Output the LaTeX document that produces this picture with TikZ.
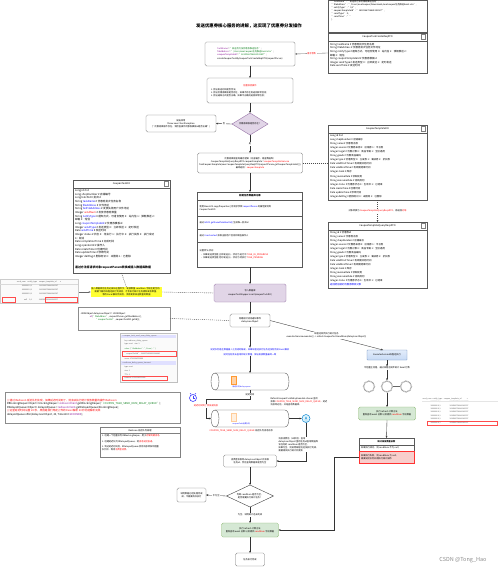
\documentclass[tikz,border=0pt]{standalone}
\usepackage{fontspec}
\setmainfont{Noto Sans CJK SC}
\usetikzlibrary{arrows.meta,shapes.geometric}
\definecolor{cred}{HTML}{FF0000}
\definecolor{cblue}{HTML}{0000FF}
\definecolor{cpur}{HTML}{871094}
\definecolor{cgrn}{HTML}{067D17}
\definecolor{pfill}{HTML}{E1D5E7}
\definecolor{pdraw}{HTML}{9673A6}
\definecolor{gfill}{HTML}{D5E8D4}
\definecolor{gdraw}{HTML}{82B366}
\definecolor{rfill}{HTML}{F8CECC}
\definecolor{rdraw}{HTML}{B85450}
\definecolor{bfill}{HTML}{C7DAF5}
\definecolor{bdraw}{HTML}{6C8EBF}
\definecolor{hl}{HTML}{FFFF33}
\newcommand\cR[1]{\textcolor{cred}{#1}}
\newcommand\cB[1]{\textcolor{cblue}{#1}}
\newcommand\cP[1]{\textcolor{cpur}{#1}}
\newcommand\cG[1]{\textcolor{cgrn}{#1}}
\newcommand\myfa{\fontsize{2.5}{3.6}\selectfont}
\newcommand\myfb{\fontsize{2.8}{3.6}\selectfont}
\newcommand\myfc{\fontsize{2.4}{3.4}\selectfont}
\newcommand\myfd{\fontsize{2.2}{3.0}\selectfont}
\newcommand\myfe{\fontsize{1.8}{2.4}\selectfont}
\tikzset{
  base/.style={inner sep=0.6pt, outer sep=0pt, font=\myfb},
  rbox/.style={base, draw=black!55, rounded corners=1.5pt, fill=white, line width=0.35pt, align=center},
  cls/.style={draw=black!65, fill=white, line width=0.35pt, inner sep=0pt, outer sep=0pt},
  fld/.style={base, align=left, anchor=north west, font=\myfa},
  hdr/.style={base, font=\myfc},
  arr/.style={-{Stealth[length=2.2pt,width=1.8pt]}, line width=0.35pt, draw=black!80},
  dsh/.style={dash pattern=on 1pt off 1pt, line width=0.4pt, draw=black!70},
  lbl/.style={base, fill=white, font=\myfc},
  cylst/.style={draw=black!70, line width=0.35pt},
  gear/.style={circle, draw=gray!75, line width=1.2pt, dash pattern=on 0.8pt off 0.6pt, minimum size=11pt, inner sep=0pt},
  tiny/.style={base, font=\myfe, text=black!70},
}
\begin{document}
\begin{tikzpicture}[x=1pt,y=-1pt]
\useasboundingbox (0,0) rectangle (500,569);
\fill[white] (0,0) rectangle (500,569);

% title
\node[base, font=\fontsize{4.4}{5}\selectfont\bfseries] (title) at (249,26) {发送优惠券核心服务的讲解，这实现了优惠券分发操作};

% ---------- top right JSON + ReqDTO ----------
\node[cls, anchor=north west, minimum width=99pt, minimum height=32pt] (json) at (328,0) {};
\node[fld, font=\myfd, anchor=north west] (jsont) at (331,0.5) {"taskName": "发送百万张优惠券推送任务",\\
"fileAddress": "/Users/oneCoupon/Downloads/oneCoupon任务推送Excel.xlsx",\\
"notifyType": "0,3",\\
"couponTemplateId": "1810966706881941507",\\
"sendType": 0,\\
"sendTime": ""\\
\}};
\node[cls, anchor=north west, minimum width=99pt, minimum height=40pt] (reqdto) at (328,33) {};
\draw[draw=black!65, line width=0.35pt] (328,41) -- (427,41);
\node[hdr] (reqdtoh) at (377.5,37) {CouponTaskCreateReqDTO};
\draw[draw=black!50, line width=0.3pt] (421,34.5) rectangle (425,39.5);
\node[fld] (reqdtof) at (329.5,42.5) {String taskName \# 优惠券批次任务名称\\
String fileAddress \# 优惠券批次任务文件地址\\
String notifyType \# 通知方式，可组合使用 0：站内信 1：弹框推送 2：\\
邮箱 3：短信\\
String couponTemplateId \# 优惠券模板id\\
Integer sendType \# 发送类型 0：立即发送 1：定时发送\\
Date sendTime \# 发送时间};

% ---------- main column ----------
\node[rbox, align=left, minimum width=90pt, minimum height=24pt, font=\myfd] (topbox) at (250,54) {\cP{taskName} = \cG{"发送百万张优惠券推送任务"};\\
\cP{fileAddress} = \cG{"/Users/oneCoupon任务推送Excel.xlsx"};\\
\cP{couponTemplateId} = \cG{"1810966706881941507"};\\[0.8pt]
createCouponTaskByCouponTaskCreateReqDTO(requestParam)};
\draw[arr, draw=black!60] (reqdto.west) -- node[lbl, text=cred, font=\myfd] {请求参数} (topbox.east);

\node[rbox, align=left, minimum width=86pt, minimum height=25pt, font=\myfd] (chk) at (250,90.5) {\makebox[78pt][c]{\cR{前置校验操作}}\\[1.5pt]
1. 验证发送时间是否合法；\\
2. 验证优惠券模板是否存在，如果不存在则返回异常信息；\\
3. 验证通知方式是否正确，如果不正确则返回异常信息；};
\draw[arr] (topbox.south) -- (chk.north);

\node[diamond, aspect=1.7, minimum width=36pt, minimum height=22pt, inner sep=0pt, outer sep=0pt, draw=pdraw, fill=pfill, line width=0.4pt, font=\myfd] (dia1) at (250,124) {优惠券模板是否存在？};
\draw[arr] (chk.south) -- (dia1.north);

\node[rbox, minimum width=70pt, minimum height=17pt, font=\myfd] (exb) at (181,123.5) {抛出异常\\throw new ClientException\\("优惠券模板不存在，请检查操作优惠券模板id是否正确")};
\draw[arr] (dia1.west) -- node[lbl, font=\myfd] {否} (exb.east);

\node[rbox, minimum width=105pt, minimum height=20pt, font=\myfd] (qbox) at (250,163) {优惠券模板查询缓存逻辑（先查缓存，再查数据库）\\
CouponTemplateQueryRespDTO couponTemplate = \cR{couponTemplateService}\\
.findCouponTemplate(new CouponTemplateQueryReqDTO(requestParam.getCouponTemplateId()));\\
最终返回：\cR{couponTemplate}};
\draw[arr] (dia1.south) -- node[lbl, font=\myfd] {是} (qbox.north);

% CouponTemplateDO
\node[cls, anchor=north west, minimum width=99pt, minimum height=75pt] (tdo) at (328,125) {};
\draw[draw=black!65, line width=0.35pt] (328,133) -- (427,133);
\node[hdr] (tdoh) at (377.5,129) {CouponTemplateDO};
\draw[draw=black!50, line width=0.3pt] (421,126.5) rectangle (425,131.5);
\node[fld, font=\fontsize{2.4}{4.1}\selectfont] (tdof) at (329.5,133.5) {Long id \# id\\
Long shopNumber \# 店铺编号\\
String name \# 优惠券名称\\
Integer source \# 优惠券来源 0：店铺券 1：平台券\\
Integer target \# 优惠对象 0：商品专属 1：全店通用\\
String goods \# 优惠商品编码\\
Integer type \# 优惠类型 0：立减券 1：满减券 2：折扣券\\
Date validStartTime \# 有效期开始时间\\
Date validEndTime \# 有效期结束时间\\
Integer stock \# 库存\\
String receiveRule \# 领取规则\\
String consumeRule \# 消耗规则\\
Integer status \# 优惠券状态 0：生效中 1：已结束\\
Date createTime \# 创建时间\\
Date updateTime \# 修改时间\\
Integer delFlag \# 删除标识 0：未删除 1：已删除};
\draw[dsh] (qbox.east) -- (qbox.east -| tdo.west);

% CouponTemplateQueryRespDTO
\node[cls, anchor=north west, minimum width=99pt, minimum height=66pt] (resp) at (328,222) {};
\draw[draw=black!65, line width=0.35pt] (328,230) -- (427,230);
\node[hdr] (resph) at (377.5,226) {CouponTemplateQueryRespDTO};
\draw[draw=black!50, line width=0.3pt] (421,223.5) rectangle (425,228.5);
\node[fld, font=\fontsize{2.4}{4.0}\selectfont] (respf) at (329.5,230.5) {String id \# 优惠券id\\
String name \# 优惠券名称\\
String shopNumber \# 店铺编号\\
Integer source \# 优惠券来源 0：店铺券 1：平台券\\
Integer target \# 优惠对象 0：商品专属 1：全店通用\\
String goods \# 优惠商品编码\\
Integer type \# 优惠类型 0：立减券 1：满减券 2：折扣券\\
Date validStartTime \# 有效期开始时间\\
Date validEndTime \# 有效期结束时间\\
Integer stock \# 库存\\
String receiveRule \# 领取规则\\
String consumeRule \# 消耗规则\\
Integer status \# 优惠券状态 0：生效中 1：已结束\\
\cB{返回给前端的优惠券模板对象}};
\draw[dsh, -{Stealth[length=2pt,width=1.8pt]}] (tdo.south) -- node[lbl, font=\myfd] {对象转换为 \cR{CouponTemplateQueryRespDTO}，再返回\cR{对象}} (resp.north);

% CouponTaskDO
\node[cls, anchor=north west, minimum width=97pt, minimum height=93pt] (taskdo) at (73,180) {};
\draw[draw=black!65, line width=0.35pt] (73,188) -- (170,188);
\node[hdr] (taskdoh) at (121.5,184) {CouponTaskDO};
\draw[draw=black!50, line width=0.3pt] (164,181.5) rectangle (168,186.5);
\node[fld, font=\fontsize{2.6}{3.65}\selectfont] (taskdof) at (74.5,189) {Long id \# id\\
Long shopNumber \# 店铺编号\\
Long batchId \# 批次id\\
String \cB{taskName} \# 优惠券批次任务名称\\
String \cB{fileAddress} \# 文件地址\\
String \cB{failFileAddress} \# 发放失败用户文件地址\\
Integer \cR{sendNum} \# 发放优惠券数量\\
String \cB{notifyType} \# 通知方式，可组合使用 0：站内信 1：弹框推送 2：\\
邮箱 3：短信\\
Long \cB{couponTemplateId} \# 优惠券模板id\\
Integer \cB{sendType} \# 发送类型 0：立即发送 1：定时发送\\
Date \cB{sendTime} \# 发送时间\\
Integer status \# 状态 0：待执行 1：执行中 2：执行失败 3：执行成功\\
4：取消\\
Date completionTime \# 完成时间\\
Long operatorId \# 操作人\\
Date createTime \# 创建时间\\
Date updateTime \# 修改时间\\
Integer delFlag \# 删除标识 0：未删除 1：已删除};
\node[base, font=\fontsize{2.9}{3.5}\selectfont\bfseries, anchor=west] (taskdob) at (74.5,268) {通过方法将请求对象requestParam转换成插入数据库数据};

% 构建任务数据库记录
\node[cls, anchor=north west, minimum width=105pt, minimum height=75pt] (tbox) at (197.5,192) {};
\node[hdr, font=\myfc\bfseries] (tboxh) at (250,196) {构建任务数据库记录};
\draw[draw=black!65, line width=0.35pt] (197.5,200) -- (302.5,200);
\draw[draw=black!65, line width=0.35pt] (197.5,216) -- (302.5,216);
\draw[draw=black!65, line width=0.35pt] (197.5,229) -- (302.5,229);
\draw[draw=black!65, line width=0.35pt] (197.5,242) -- (302.5,242);
\node[fld, font=\myfd, anchor=west] (ts1) at (199,208) {使用 BeanUtil.copyProperties() 将请求参数 \cB{requestParam} 的属性复制到\\CouponTaskDO};
\node[fld, font=\myfd, anchor=west] (ts2) at (199,222.5) {通过 \cB{IdUtil.getSnowflakeNextId()} 生成唯一批次id};
\node[fld, font=\myfd, anchor=west] (ts3) at (199,235.5) {通过 \cB{UserContext} 获取当前用户信息并赋值操作人};
\node[fld, font=\myfd, anchor=west] (ts4) at (199,254.5) {设置 默认状态：\\[1pt]
\ \ •\ 如果发送类型是 立即发送(0)，状态为 进行中 \cR{TASK\_IN\_PROGRESS}\\
\ \ •\ 如果发送类型是 定时发送(1)，状态为 待执行 \cR{TASK\_PENDING}};
\draw[arr] (qbox.south) -- (tbox.north);

% left DB table
\draw[draw=black!20, line width=0.3pt, fill=black!2] (0,279) rectangle (78,303);
\draw[draw=black!15, line width=0.3pt] (0,284) -- (78,284);
\node[tiny] (dbh) at (39,281.5) {send\_num\quad notify\_type\quad coupon\_template\_id\qquad v};
\node[tiny] (dbr1) at (40,286.5) {1000000\ \ 0,1\qquad\qquad 1810966706881941507};
\node[tiny] (dbr2) at (40,290.5) {1000000\ \ 0,1\qquad\qquad 1810966706881941507};
\node[tiny] (dbr3) at (40,294.5) {1000000\ \ 0,1\qquad\qquad 1810966706881941507};
\node[tiny] (dbr4) at (40,299.5) {\phantom{10}null\ \ \ \ \ 0,1\qquad\qquad 1810966706881941507};
\draw[draw=cred!70, line width=0.4pt] (2,297) rectangle (15,302);
\draw[draw=cred!70, line width=0.4pt] (45,297) rectangle (77,302);
\coordinate (dbe) at (79,292);

% yellow note
\node[base, fill=hl, font=\myfd, align=center] (yel) at (126.5,292) {插入数据库后任务记录如左图所示，发放数量 sendNum 字段还是空的，\\需要下面的线程池执行完成后，才会执行统计任务更新发放数量，\\等待 Excel 解析完成后，会再更新发送数量的数据};
\draw[arr, draw=black!60] (dbe) -- (yel.west);
\draw[dsh] (taskdo.south) -- (yel.north);

% purple insert
\node[rbox, draw=pdraw, fill=pfill, minimum width=72pt, minimum height=18pt, font=\myfd] (ins) at (250,293) {写入数据库\\[1pt]couponTaskMapper.insert(couponTaskDO)};
\draw[dsh] (yel.east) -- (ins.west);
\draw[arr] (tbox.south) -- (ins.north);

% event box
\node[rbox, minimum width=40pt, minimum height=13pt, font=\myfd] (ev) at (250,320.5) {构建延时消息通知事件\\delayJsonObject};
\draw[arr] (ins.south) -- (ev.north);

% JSONObject code
\node[cls, minimum width=92pt, minimum height=23pt, draw=black!45] (code1) at (124,318.5) {};
\node[fld, font=\myfd, anchor=west] (code1t) at (80,317) {JSONObject delayJsonObject = JSONObject\\
\qquad\qquad.\cP{of}(\cG{"fileAddress"}, requestParam.getFileAddress(),\\
\qquad\qquad\qquad\quad\cG{"couponTaskId"}, couponTaskDO.getId());};
\draw[dsh] (code1.east) -- (ev.west);

% IDE panel
\draw[draw=black!25, line width=0.3pt, fill=black!2] (120,333) rectangle (177,382);
\fill[blue!12] (121,334.5) rectangle (176,338);
\node[tiny, anchor=west] (p1) at (122,336.2) {v coupon\_task\_send\_num\_delay\_queue};
\node[tiny, anchor=west] (p2) at (124,340.5) {key: redisson\_delay\_queue};
\node[tiny, anchor=west] (p3) at (124,344.5) {type: zset\quad size: 1};
\node[tiny, anchor=west, text=cgrn] (p4) at (124,348.5) {value: \{"fileAddress":"/Users/..."\}};
\draw[draw=cred!70, line width=0.4pt] (122,351) rectangle (176,356);
\node[tiny, anchor=west] (p5) at (124,353.5) {"couponTaskId": 1816672964423188480};
\node[tiny, anchor=west] (p6) at (124,358.8) {score: 1721394553000};
\fill[blue!12] (121,361) rectangle (176,365);
\node[tiny, anchor=west] (p7) at (122,363) {v redisson\_delay\_queue\_timeout};
\node[tiny, anchor=west] (p8) at (124,367.5) {type: zset};
\node[tiny, anchor=west] (p9) at (124,371) {size: 1};
\node[tiny, anchor=west] (p10) at (124,374.5) {TTL: -1};
\draw[draw=cred!70, line width=0.4pt] (122,376) rectangle (167,380.5);
\node[tiny, anchor=west] (p11) at (124,378.3) {timeout: 1721394553000};

% blue text
\node[base, fill=white, font=\myfd, text=cblue, align=center] (bluet) at (250,352) {延迟队列是在数据插入之后延时触发，如果线程池执行任务还没有完成 Excel 解析\\[2.5pt]延时任务会去查询并统计数量，保证发放数量最终一致};

% cylinder 1
\node[minimum width=78pt, minimum height=17pt, inner sep=0pt, outer sep=0pt] (cyl1) at (250,381.5) {};
\draw[cylst, fill=white] (215,373) -- (285,373) .. controls (290.3,373) and (290.3,390) .. (285,390) -- (215,390) .. controls (209.7,390) and (209.7,373) .. (215,373);
\draw[cylst] (215,373) .. controls (220.3,373) and (220.3,390) .. (215,390);
\draw[draw=orange!80, fill=orange!35, line width=0.3pt] (231,376) rectangle (236,384);
\node[tiny, text=cblue, anchor=west] (cyl1t) at (232,387.3) {延迟队列 delay-queue};
\draw[arr] (ev.south) -- (bluet.north);
\draw[arr] (bluet.south) -- (cyl1.north);

% cylinder 2
\node[minimum width=78pt, minimum height=17pt, inner sep=0pt, outer sep=0pt] (cyl2) at (250,418.5) {};
\draw[cylst, fill=white] (215,410) -- (285,410) .. controls (290.3,410) and (290.3,427) .. (285,427) -- (215,427) .. controls (209.7,427) and (209.7,410) .. (215,410);
\draw[cylst] (215,410) .. controls (220.3,410) and (220.3,427) .. (215,427);
\draw[draw=orange!40, fill=orange!12, line width=0.3pt] (231,413) rectangle (236,421);
\node[tiny, text=cblue, anchor=west] (cyl2t) at (232,424.3) {couponTask消费队列};
\coordinate (cc) at (206,399);
\draw[arr] (cyl1.south) |- (cc) |- (cyl2.west);
\node[lbl, font=\myfd] (dlt) at (250,394.5) {延迟时间};
\node[base, fill=white, font=\myfd, text=cred] (redt) at (206,406) {延迟时间到了会投递消息};
\node[circle, draw=cblue!75, line width=0.6pt, minimum size=7pt, inner sep=0pt] (clock) at (193,398) {};
\draw[draw=cblue!75, line width=0.4pt] (clock.center) -- ++(0,-2.2) (clock.center) -- ++(1.6,0);
\draw[draw=cblue!75, line width=0.6pt] (190,393.3) -- (191.3,394.3) (196,393.3) -- (194.7,394.3);
\node[base, font=\myfd, anchor=west] (cyl2q) at (209,430.5) {\cR{COUPON\_TASK\_SEND\_NUM\_DELAY\_QUEUE} 延迟队列消息名称};

% consumer icon
\node[circle, draw=cyan!70!blue, fill=cyan!12, line width=0.5pt, minimum size=8pt, inner sep=0pt] (cons) at (306,418.5) {};
\draw[draw=cyan!70!blue, line width=0.4pt] (304.5,421) -- (307.5,421) (305,419.5) -- (306,417) -- (307,419.5);
\draw[arr] (cyl2.east) -- (cons.west);
\node[base, font=\myfd, align=left, anchor=west] (lsn) at (270,402) {RefreshCouponTaskDelayExecuteListener 监听\\获取 \cR{COUPON\_TASK\_SEND\_NUM\_DELAY\_QUEUE}，延迟\\消息到达后，开始查询数据库。};

\node[rbox, minimum width=53pt, minimum height=12pt, font=\myfd] (consb) at (250,461) {消费者获取到 delayJsonObject 并获取\\任务id，然后查询数据库是否为空};
\draw[arr] (cons.south) |- (consb.east);
\node[base, fill=white, font=\myfd, align=left, anchor=west] (lsn2) at (278,444.5) {消息消费后（20秒后）查询\\delayJsonObject 里的任务id查询数据库\\该任务的 sendNum 是否为空，\\如果为空，则说明线程池还没执行完成，\\需要再次执行统计并更新};

% diamond 2
\node[diamond, aspect=2.1, minimum width=47pt, minimum height=22pt, inner sep=0pt, outer sep=0pt, draw=black!75, fill=white, line width=0.4pt, font=\myfd, align=center] (dia2) at (250,496) {判断 sendNum 是否为空，\\是否需要执行统计任务？};
\draw[arr] (consb.south) -- (dia2.north);
\node[rbox, minimum width=29pt, minimum height=14pt, font=\myfd] (lb2) at (191.5,495) {说明数据已经处理完成\\成，不需要再次执行};
\draw[arr] (dia2.west) -- node[lbl, font=\myfd] {不为空} (lb2.east);

\node[rbox, draw=gdraw, fill=gfill, minimum width=57pt, minimum height=14pt, font=\myfd] (green2) at (250,530) {执行 refresh 计数方法\\重新查询 excel 总数 以及更新 \cR{sendNum} 字段数据};
\draw[arr] (dia2.south) -- node[lbl, font=\myfd] {为空，说明统计还未完成} (green2.north);

\node[rbox, minimum width=29pt, minimum height=13pt, font=\myfd] (fin) at (250,559.5) {任务执行完成};
\draw[arr] (green2.south) -- (fin.north);

% ---------- right column ----------
\node[rbox, rounded corners=0.5pt, draw=bdraw, top color=bfill!50, bottom color=bfill, minimum width=40pt, minimum height=10pt, font=\myfd] (tp) at (387,355) {ExecutorService线程池执行};
\draw[arr] (ev.east) -- node[lbl, font=\myfd, align=center] {线程池异步执行统计任务\\executorService.execute(() -> refreshCouponTaskSendNum(delayJsonObject))} ([xshift=-4pt]tp.north);
\node[base, font=\myfd] (tpt) at (387,368) {不阻塞主流程，通过线程池异步统计 Excel 行数};
\node[gear] (g1) at (369,386.5) {};
\node[gear] (g2) at (387,386.5) {};
\node[gear] (g3) at (406,386.5) {};
\draw[draw=black!60, line width=0.35pt] (g2.east) -- (g3.west);
\draw[arr] (tp.south) -- (tpt.north);
\draw[arr] (tpt.south) -- (g2.north);

\node[rbox, draw=gdraw, fill=gfill, minimum width=57pt, minimum height=13pt, font=\myfd] (green1) at (387,413.5) {执行 refresh 计数方法\\重新查询 excel 总数 以及更新 \cR{sendNum} 字段数据};
\draw[arr] (g2.south) -- (green1.north);

% right table
\node[tiny, anchor=west] (rth) at (422,399) {send\_num\ \ \ notify\_type\ \ \ \ coupon\_template\_id\qquad\quad s};
\foreach \yy [count=\i] in {402.5,405.8,409.1,412.4,415.7,419} {
  \node[tiny, anchor=west] (rtr\i) at (430,\yy) {1000000\ 0,1\qquad\qquad\quad 1810966706881941507};
}
\draw[draw=black!10, line width=0.3pt] (422,400.8) -- (498,400.8);
\draw[draw=cred!70, line width=0.45pt] (427,421) rectangle (497,425.5);
\node[tiny, anchor=west] (rtr7) at (430,423.2) {1000000\ 0,1\qquad\qquad\quad 1810966706881941507};

% stat box
\node[cls, anchor=north west, minimum width=55pt, minimum height=25pt] (stat) at (359,438) {};
\node[base, font=\myfd\bfseries] (stath) at (386.5,441.5) {统计发放数量总数};
\draw[draw=black!65, line width=0.35pt] (359,445) -- (414,445);
\node[base, font=\myfd, anchor=west] (statr) at (360.5,448) {如果执行成功，则 sendNum 不为 null；};
\node[cls, anchor=north west, draw=cred!80, fill=rfill, minimum width=55pt, minimum height=12pt] (statp) at (359,451) {};
\node[base, font=\myfd, align=left, anchor=west] (statpt) at (360.5,457) {如果执行失败，则 sendNum 为 null，\\需要延迟队列补偿执行统计操作};
\draw[arr] (green1.south) -- (stat.north);
\coordinate (rp) at (334,457);
\draw[arr] (statp.west) -- (rp) |- (green2.east);

% ---------- left code ----------
\node[cls, anchor=north west, draw=black!45, minimum width=175pt, minimum height=31pt] (lcode) at (5,392) {};
\node[fld, font=\fontsize{2.6}{3.6}\selectfont, anchor=west] (lcodet) at (6.5,407.5) {\cR{// 通过 Redisson 延迟队列实现，如果延迟时间到了，则会去执行统计发放数量的操作 Redisson}\\
RBlockingDeque<Object> blockingDeque = \cP{redissonClient}.getBlockingDeque(\cG{"COUPON\_TASK\_SEND\_NUM\_DELAY\_QUEUE"});\\
RDelayedQueue<Object> delayedQueue = \cP{redissonClient}.getDelayedQueue(blockingDeque);\\
\cR{// 这里延迟时间设置 20 秒，原因是我们笃定上传的 Excel 解析 20 秒内能解析完成}\\
delayedQueue.offer(delayJsonObject, 20, TimeUnit.\cP{SECONDS});};

\node[cls, anchor=north west, draw=black!50, minimum width=80pt, minimum height=30pt] (rds) at (100,427) {};
\node[base, font=\myfd] (rdsh) at (140,430.5) {Redisson 延迟队列原理};
\draw[draw=black!50, line width=0.35pt] (100,433.5) -- (180,433.5);
\node[fld, font=\myfd, anchor=north west] (rdst) at (101.5,434.5) {1. 创建一个阻塞队列 RBlockingDeque，用于\cR{存储到期消息}。\\[2.5pt]
2. 创建延迟队列 RDelayedQueue，将\cR{消息延迟投递}。\\[2.5pt]
3. 到达延迟时间后，RDelayedQueue 会将消息转移到阻塞\\队列中，等待\cR{消费者消费}。};

% watermark
\node[base, font=\fontsize{5.5}{6}\selectfont, text=black!45] (wm) at (463,560) {CSDN @Tong\_Hao};
\end{tikzpicture}
\end{document}
